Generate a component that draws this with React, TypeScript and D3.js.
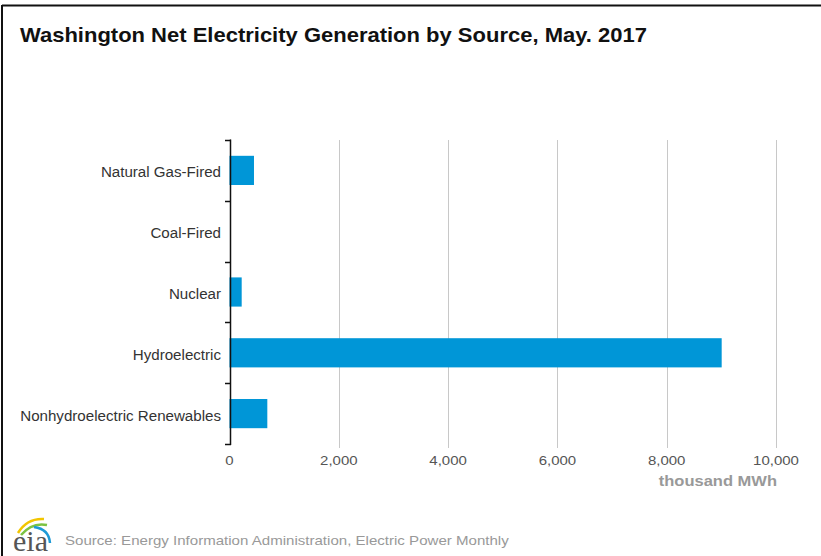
import React from "react";
import * as d3 from "d3";

const categories = [
  "Natural Gas-Fired",
  "Coal-Fired",
  "Nuclear",
  "Hydroelectric",
  "Nonhydroelectric Renewables",
];
const values = [448, 0, 223, 9006, 692];
const xTicks = [0, 2000, 4000, 6000, 8000, 10000];
const title = "Washington Net Electricity Generation by Source, May. 2017";
const unitLabel = "thousand MWh";
const sourceText = "Source: Energy Information Administration, Electric Power Monthly";

const W = 821;
const H = 556;

type TProps = {
  x: number;
  y: number;
  sx: number;
  anchor?: "start" | "middle" | "end";
  size: number;
  fill: string;
  weight?: string;
  family?: string;
  children: React.ReactNode;
};

function SText({ x, y, sx, anchor = "start", size, fill, weight, family, children }: TProps) {
  return (
    <text
      transform={`translate(${x},${y}) scale(${sx},1)`}
      textAnchor={anchor}
      fontSize={size}
      fill={fill}
      fontWeight={weight}
      fontFamily={family}
    >
      {children}
    </text>
  );
}

export default function App() {
  const x = d3.scaleLinear().domain([0, 10000]).range([229.5, 776]);
  const y = d3.scaleBand<string>().domain(categories).range([140, 444]).padding(0);
  const bw = y.bandwidth();
  const barH = bw * 0.48;
  const fmt = d3.format(",");
  const font = "'Liberation Sans', Arial, sans-serif";

  return (
    <svg
      width={W}
      height={H}
      style={{ position: "absolute", left: 0, top: 0, background: "#fff" }}
      fontFamily={font}
    >
      <rect x={0} y={0} width={W} height={H} fill="#fff" />
      {/* frame */}
      <line x1={2} y1={5.5} x2={W} y2={5.5} stroke="#111" strokeWidth={2} />
      <line x1={2} y1={5} x2={2} y2={H} stroke="#111" strokeWidth={2} />

      <SText x={20} y={42} sx={1.1} size={20} weight="bold" fill="#111">
        {title}
      </SText>

      {/* gridlines */}
      {xTicks.slice(1).map((t) => (
        <line
          key={"g" + t}
          x1={Math.round(x(t)) + 0.5}
          x2={Math.round(x(t)) + 0.5}
          y1={140}
          y2={448}
          stroke="#c8c8c8"
          strokeWidth={1}
        />
      ))}

      {/* bars */}
      {categories.map((c, i) => (
        <rect
          key={"b" + c}
          x={x(0)}
          y={(y(c) as number) + (bw - barH) / 2}
          width={Math.max(0, x(values[i]) - x(0))}
          height={barH}
          fill="#0096d7"
        />
      ))}

      {/* y axis */}
      <line x1={230.5} x2={230.5} y1={139.5} y2={445} stroke="#111" strokeWidth={1.5} />
      {[...categories.map((c) => y(c) as number), 444].map((v, i) => (
        <line
          key={"t" + i}
          x1={225}
          x2={231}
          y1={Math.round(v) + 0.5}
          y2={Math.round(v) + 0.5}
          stroke="#111"
          strokeWidth={1.5}
        />
      ))}
      {categories.map((c) => (
        <SText
          key={"l" + c}
          x={221}
          y={(y(c) as number) + bw / 2 + 7}
          sx={1.08}
          anchor="end"
          size={14}
          fill="#333"
        >
          {c}
        </SText>
      ))}

      {/* x tick labels */}
      {xTicks.map((t) => (
        <SText
          key={"x" + t}
          x={x(t)}
          y={465}
          sx={1.2}
          anchor="middle"
          size={12.5}
          fill="#555"
        >
          {fmt(t)}
        </SText>
      ))}
      <SText x={777} y={486} sx={1.18} anchor="end" size={14} weight="bold" fill="#999">
        {unitLabel}
      </SText>

      {/* eia logo */}
      <g>
        <path d="M18,533 Q27,518 44,519" fill="none" stroke="#f2c500" strokeWidth={2.5} />
        <path d="M21,535 Q32,522 47,525" fill="none" stroke="#7cc242" strokeWidth={2.5} />
        <path d="M34,527 Q49,529 50,543" fill="none" stroke="#1d9ad6" strokeWidth={2.5} />
        <text
          x={13}
          y={551}
          fontSize={30}
          fontFamily="'Liberation Serif', 'DejaVu Serif', serif"
          fill="#555"
        >
          eia
        </text>
      </g>
      <SText x={65} y={545} sx={1.16} size={13} fill="#999">
        {sourceText}
      </SText>
    </svg>
  );
}
